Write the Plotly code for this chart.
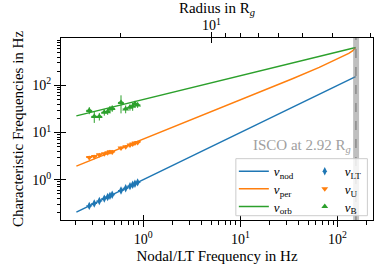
import numpy as np
import plotly.graph_objects as go

# ---------------- data ----------------
# model curves sampled along the disc radius
nu_nod_curve = [0.2047, 0.6517, 1.507, 4.867, 13.50, 20.89, 34.89, 64.92, 93.77, 119.8, 130.7, 142.9, 149.6, 153.8]
nu_per_curve = [1.942, 5.062, 10.13, 26.79, 62.77, 90.65, 140.2, 241.2, 338.5, 433.4, 477.8, 536.4, 579.2, 634.0]
nu_orb_curve = [22.56, 40.66, 62.30, 113.2, 189.9, 236.8, 306.3, 417.1, 499.5, 562.6, 586.6, 612.2, 625.7, 634.0]

# observed QPOs
nu_LT = [0.278, 0.313, 0.353, 0.397, 0.430, 0.454, 0.479, 0.590, 0.659, 0.730, 0.778, 0.821, 0.875]
nu_LT_err = [0.020, 0.022, 0.025, 0.028, 0.030, 0.032, 0.034, 0.041, 0.046, 0.051, 0.054, 0.057, 0.061]
nu_U = [2.97, 3.12, 3.39, 3.56, 3.74, 3.93, 3.87, 4.70, 5.01, 5.45, 5.72, 6.00, 6.18]
nu_U_err = [0.25, 0.25, 0.3, 0.3, 0.3, 0.35, 0.4, 0.4, 0.4, 0.45, 0.5, 0.5, 0.5]
nu_B = [29.5, 22.0, 22.0, 26.8, 27.7, 31.6, 32.5, 43.5, 31.6, 34.2, 35.9, 40.9, 38.4]
nu_B_err = [5, 6, 4, 4, 4, 4, 5, 18, 6, 5, 7, 6, 5]

isco_freq = 155.0
isco_band = [145.0, 167.0]
isco_label = "ISCO at 2.92 R<sub><i>g</i></sub>"

x_range_hz = [0.1422, 232.3]
y_range_hz = [0.1396, 1012.0]
radius_range = [31.3, 2.94]
radius_major = [10]
radius_minor = [20, 9, 8, 7, 6, 5, 4, 3]

major_vals = [1, 10, 100]
major_text = ["10<sup>0</sup>", "10<sup>1</sup>", "10<sup>2</sup>"]
x_minor = [0.2, 0.3, 0.4, 0.5, 0.6, 0.7, 0.8, 0.9, 2, 3, 4, 5, 6, 7, 8, 9,
           20, 30, 40, 50, 60, 70, 80, 90, 200]
y_minor = [0.2, 0.3, 0.4, 0.5, 0.6, 0.7, 0.8, 0.9, 2, 3, 4, 5, 6, 7, 8, 9,
           20, 30, 40, 50, 60, 70, 80, 90, 200, 300, 400, 500, 600, 700, 800, 900]

BLUE, ORANGE, GREEN = "#1f77b4", "#ff7f0e", "#2ca02c"
FONT = "Liberation Serif"

# legend slots in paper units
row_y = [0.2676, 0.1709, 0.0736]
col_x = [0.554, 0.7813]

fig = go.Figure()

# curves (left legend column)
for i, (ys, col, name) in enumerate([(nu_nod_curve, BLUE, "<i>ν</i><sub>nod</sub>"),
                                     (nu_per_curve, ORANGE, "<i>ν</i><sub>per</sub>"),
                                     (nu_orb_curve, GREEN, "<i>ν</i><sub>orb</sub>")]):
    fig.add_trace(go.Scatter(x=nu_nod_curve, y=ys, mode="lines", name=name,
                             line=dict(color=col, width=1.5),
                             legend="legend" if i == 0 else "legend%d" % (i + 1)))

# data points (right legend column)
for i, (ys, yerr, col, sym, name) in enumerate(
        [(nu_LT, nu_LT_err, BLUE, "diamond-tall", "<i>ν</i><sub>LT</sub>"),
         (nu_U, nu_U_err, ORANGE, "triangle-down", "<i>ν</i><sub>U</sub>"),
         (nu_B, nu_B_err, GREEN, "triangle-up", "<i>ν</i><sub>B</sub>")]):
    fig.add_trace(go.Scatter(
        x=nu_LT, y=ys, mode="markers", name=name, legend="legend%d" % (i + 4),
        marker=dict(color=col, symbol=sym, size=6, line=dict(width=0)),
        error_x=dict(type="data", array=nu_LT_err, color=col, thickness=1, width=0),
        error_y=dict(type="data", array=yerr, color=col, thickness=1, width=0)))

# empty traces so the extra (overlay) axes are drawn
fig.add_trace(go.Scatter(x=[], y=[], xaxis="x2", yaxis="y", showlegend=False))
fig.add_trace(go.Scatter(x=[], y=[], xaxis="x3", yaxis="y", showlegend=False))
fig.add_trace(go.Scatter(x=[], y=[], xaxis="x4", yaxis="y", showlegend=False))
fig.add_trace(go.Scatter(x=[], y=[], xaxis="x", yaxis="y3", showlegend=False))

lx = [np.log10(v) for v in x_range_hz]
ly = [np.log10(v) for v in y_range_hz]
lr = [np.log10(v) for v in radius_range]

tickfont = dict(family=FONT, size=14, color="black")
titlefont = dict(family=FONT, size=15, color="black")
legfont = dict(family=FONT, size=13, color="black")

legends = {}
for k in range(6):
    key = "legend" if k == 0 else "legend%d" % (k + 1)
    legends[key] = dict(x=col_x[k // 3], y=row_y[k % 3], xanchor="left", yanchor="middle",
                        bgcolor="rgba(0,0,0,0)", borderwidth=0, font=legfont, itemwidth=30)

fig.update_layout(
    width=390, height=279,
    margin=dict(l=61, r=17, t=38, b=59),
    plot_bgcolor="white", paper_bgcolor="white",
    font=dict(family=FONT, color="black"),
    xaxis=dict(type="log", range=lx, showline=True, linecolor="black", linewidth=1,
               automargin=False,
               showgrid=False, zeroline=False, ticks="outside", ticklen=6, tickcolor="black",
               tickmode="array", tickvals=major_vals, ticktext=major_text, tickfont=tickfont,
               minor=dict(tickmode="array", tickvals=x_minor, ticks="outside", ticklen=3.5,
                          tickcolor="black", showgrid=False),
               title=dict(text="Nodal/LT Frequency in Hz", font=titlefont, standoff=4)),
    yaxis=dict(type="log", range=ly, showline=True, linecolor="black", linewidth=1, mirror=True,
               automargin=False,
               showgrid=False, zeroline=False, ticks="outside", ticklen=6, tickcolor="black",
               tickmode="array", tickvals=major_vals, ticktext=major_text, tickfont=tickfont,
               minor=dict(tickmode="array", tickvals=y_minor, ticks="outside", ticklen=3.5,
                          tickcolor="black", showgrid=False),
               title=dict(text="Characteristic Frequencies in Hz", font=titlefont, standoff=5)),
    xaxis2=dict(type="log", range=lr, overlaying="x", side="top", anchor="y", automargin=False,
                showline=True, linecolor="black", linewidth=1, showgrid=False, zeroline=False,
                ticks="outside", ticklen=5, tickcolor="black", ticklabelstandoff=-4,
                tickmode="array", tickvals=radius_major, ticktext=["10<sup>1</sup>"], tickfont=tickfont,
                minor=dict(tickmode="array", tickvals=radius_minor, ticks="outside", ticklen=4,
                           tickcolor="black", showgrid=False),
                title=dict(text="Radius in R<sub><i>g</i></sub>", font=titlefont, standoff=7)),
    xaxis3=dict(type="log", range=lx, overlaying="x", side="bottom", anchor="y", automargin=False,
                showline=False, showgrid=False, zeroline=False, ticks="inside", ticklen=5,
                tickcolor="black", tickmode="array", tickvals=major_vals, showticklabels=False),
    xaxis4=dict(type="log", range=lr, overlaying="x", side="top", anchor="y", automargin=False,
                showline=False, showgrid=False, zeroline=False, ticks="inside", ticklen=5,
                tickcolor="black", tickmode="array", tickvals=radius_major, showticklabels=False),
    yaxis3=dict(type="log", range=ly, overlaying="y", side="left", anchor="x", automargin=False,
                showline=False, showgrid=False, zeroline=False, ticks="inside", ticklen=5,
                tickcolor="black", tickmode="array", tickvals=major_vals, showticklabels=False),
    showlegend=True,
    **legends,
)

# ISCO band, dashed line, legend frame
fig.add_shape(type="rect", xref="x", yref="paper", x0=isco_band[0], x1=isco_band[1], y0=0, y1=1,
              fillcolor="rgba(128,128,128,0.5)", line=dict(width=0), layer="above")
fig.add_shape(type="line", xref="x", yref="paper", x0=isco_freq, x1=isco_freq, y0=0, y1=1,
              line=dict(color="#707070", width=1, dash="dash"), layer="above")
fig.add_shape(type="rect", xref="paper", yref="paper", x0=0.5604, x1=0.982, y0=0.0236, y1=0.337,
              fillcolor="rgba(255,255,255,0.8)", line=dict(color="#cccccc", width=1), layer="above")

fig.add_annotation(xref="x", yref="paper", x=np.log10(isco_freq), y=0.404, text=isco_label,
                   xanchor="right", yanchor="middle", xshift=-3, showarrow=False,
                   font=dict(family=FONT, size=15, color="#a0a0a0"))

fig.write_html("out.html", config={"displayModeBar": False},
               post_script="document.body.style.margin='0';")
